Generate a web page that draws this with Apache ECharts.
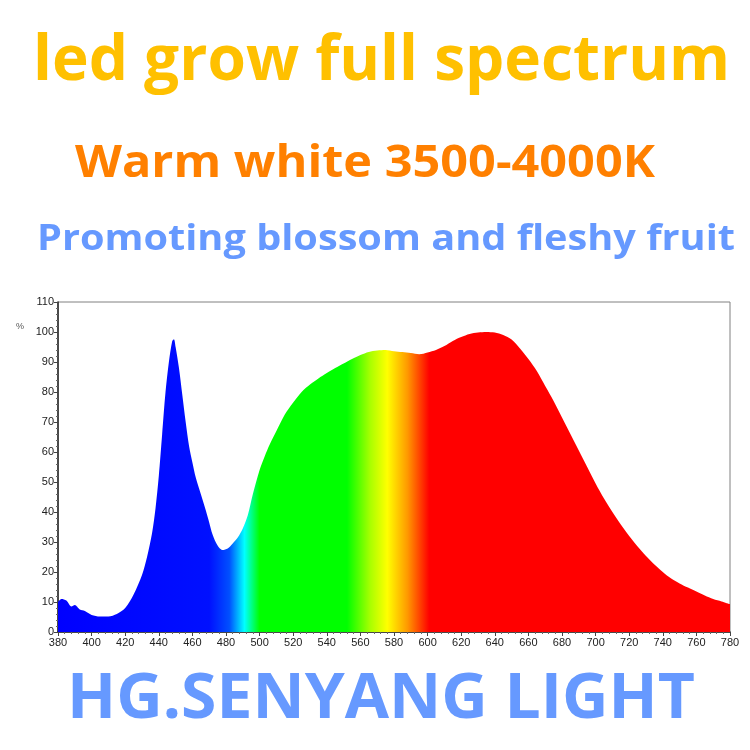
<!DOCTYPE html>
<html>
<head>
<meta charset="utf-8">
<script src="https://cdn.jsdelivr.net/npm/echarts@6/dist/echarts.min.js"></script>
<style>
html,body{margin:0;padding:0;background:#fff;}
#main{width:750px;height:750px;}
</style>
</head>
<body>
<div id="main"></div>
<script>
// ---- data ----
const wavelengths = [380,382,385,388,390,393,396,400,405,410,415,420,425,430,433,436,438,440,442,444,446,448,449,450,452,454,456,458,460,462,465,468,470,472,475,478,481,484,487,490,493,496,500,503,506,510,515,520,525,530,535,540,545,550,555,560,565,570,575,580,585,590,595,600,605,610,615,620,625,630,635,640,645,650,655,660,665,670,675,680,685,690,695,700,705,710,715,720,725,730,735,740,745,750,755,760,765,770,775,780];
const intensity = [10,11,10.5,8.5,9,7.5,7,5.7,5.2,5.2,6,8,12.5,19,25,33,41,52,66,80,90,97,97.6,95,88,79,70,62,56.5,51.5,46,40.5,36.5,32.5,28.8,27.3,27.8,29.5,31.5,34.5,39,46,54,58.5,62.5,67,72.5,76.5,80,82.5,84.5,86.3,88,89.5,91,92.3,93.3,93.8,94,93.6,93.3,93,92.6,93.2,94,95.3,97,98.3,99.3,99.8,100,99.8,99,97.5,94.5,91,87,82,77,71.5,66,60.5,55,49.5,44.5,40,35.8,32,28.5,25.3,22.5,20,17.8,16.2,14.8,13.5,12.2,11,10.2,9.3];
const xTickLabels = [380,400,420,440,460,480,500,520,540,560,580,600,620,640,660,680,700,720,740,760,780];
const yTickLabels = [0,10,20,30,40,50,60,70,80,90,100,110];
const spectrumStops = [[380,'#0000FF'],[470,'#0010FF'],[482,'#0050FF'],[491,'#00FFFF'],[500,'#00FF00'],[552,'#00FF00'],[566,'#AAFF00'],[576,'#FFFF00'],[588,'#FF9900'],[601,'#FF0000'],[780,'#FF0000']];
const titleLines = ['led grow full spectrum','Warm white 3500-4000K','Promoting blossom and fleshy fruit'];
const footerText = 'HG.SENYANG LIGHT';

const chart = echarts.init(document.getElementById('main'), null, {renderer:'canvas'});
const FONT = '"Open Sans", "DejaVu Sans", sans-serif';
const mctx = document.createElement('canvas').getContext('2d');
function measure(text, fs){ mctx.font = 'bold ' + fs + 'px ' + FONT; return mctx.measureText(text).width; }

const xMin = xTickLabels[0], xMax = xTickLabels[xTickLabels.length-1];
const yMax = yTickLabels[yTickLabels.length-1];
const gradStops = spectrumStops.map(s => ({offset:(s[0]-xMin)/(xMax-xMin), color:s[1]}));

function textEl(text, left, top, width, fs, color){
  const sx = width / measure(text, fs);
  return {type:'text', x:left, y:top, scaleX:sx, scaleY:1,
    style:{text:text, fill:color, font:'bold '+fs+'px '+FONT, verticalAlign:'top', align:'left'}};
}

chart.setOption({
  backgroundColor:'#fff',
  animation:false,
  grid:{left:58,right:20,top:302,bottom:118,show:true,borderColor:'#808080',borderWidth:1,containLabel:false},
  xAxis:{type:'value',min:xMin,max:xMax,interval:20,
    axisLine:{lineStyle:{color:'#222',width:1.5}},
    axisTick:{show:true,length:4,lineStyle:{color:'#444'}},
    minorTick:{show:true,splitNumber:5,length:2,lineStyle:{color:'#666'}},
    axisLabel:{color:'#222',fontSize:11,fontFamily:'Liberation Sans, Arial, sans-serif',margin:5},
    splitLine:{show:false}},
  yAxis:{type:'value',min:0,max:yMax,interval:10,
    axisLine:{show:true,lineStyle:{color:'#222',width:1.5}},
    axisTick:{show:true,length:4,lineStyle:{color:'#444'}},
    minorTick:{show:true,splitNumber:5,length:2,lineStyle:{color:'#666'}},
    axisLabel:{color:'#222',fontSize:11,fontFamily:'Liberation Sans, Arial, sans-serif',margin:4},
    splitLine:{show:false}},
  series:[{type:'line',data:wavelengths.map((w,i)=>[w,intensity[i]]),
    showSymbol:false,symbol:'none',smooth:0.3,
    lineStyle:{width:0},
    areaStyle:{opacity:1,color:new echarts.graphic.LinearGradient(0,0,1,0,gradStops)}}],
  graphic:[
    textEl(titleLines[0],33,31,697,63,'#FFC000'),
    textEl(titleLines[1],75,142,580,45,'#FF8000'),
    textEl(titleLines[2],37,222,698,36,'#6699FF'),
    textEl(footerText,67,669,628,63,'#6699FF'),
    {type:'text',x:16,y:322,style:{text:'%',fill:'#555',font:'9px Liberation Sans, Arial, sans-serif'}}
  ]
});
</script>
</body>
</html>
